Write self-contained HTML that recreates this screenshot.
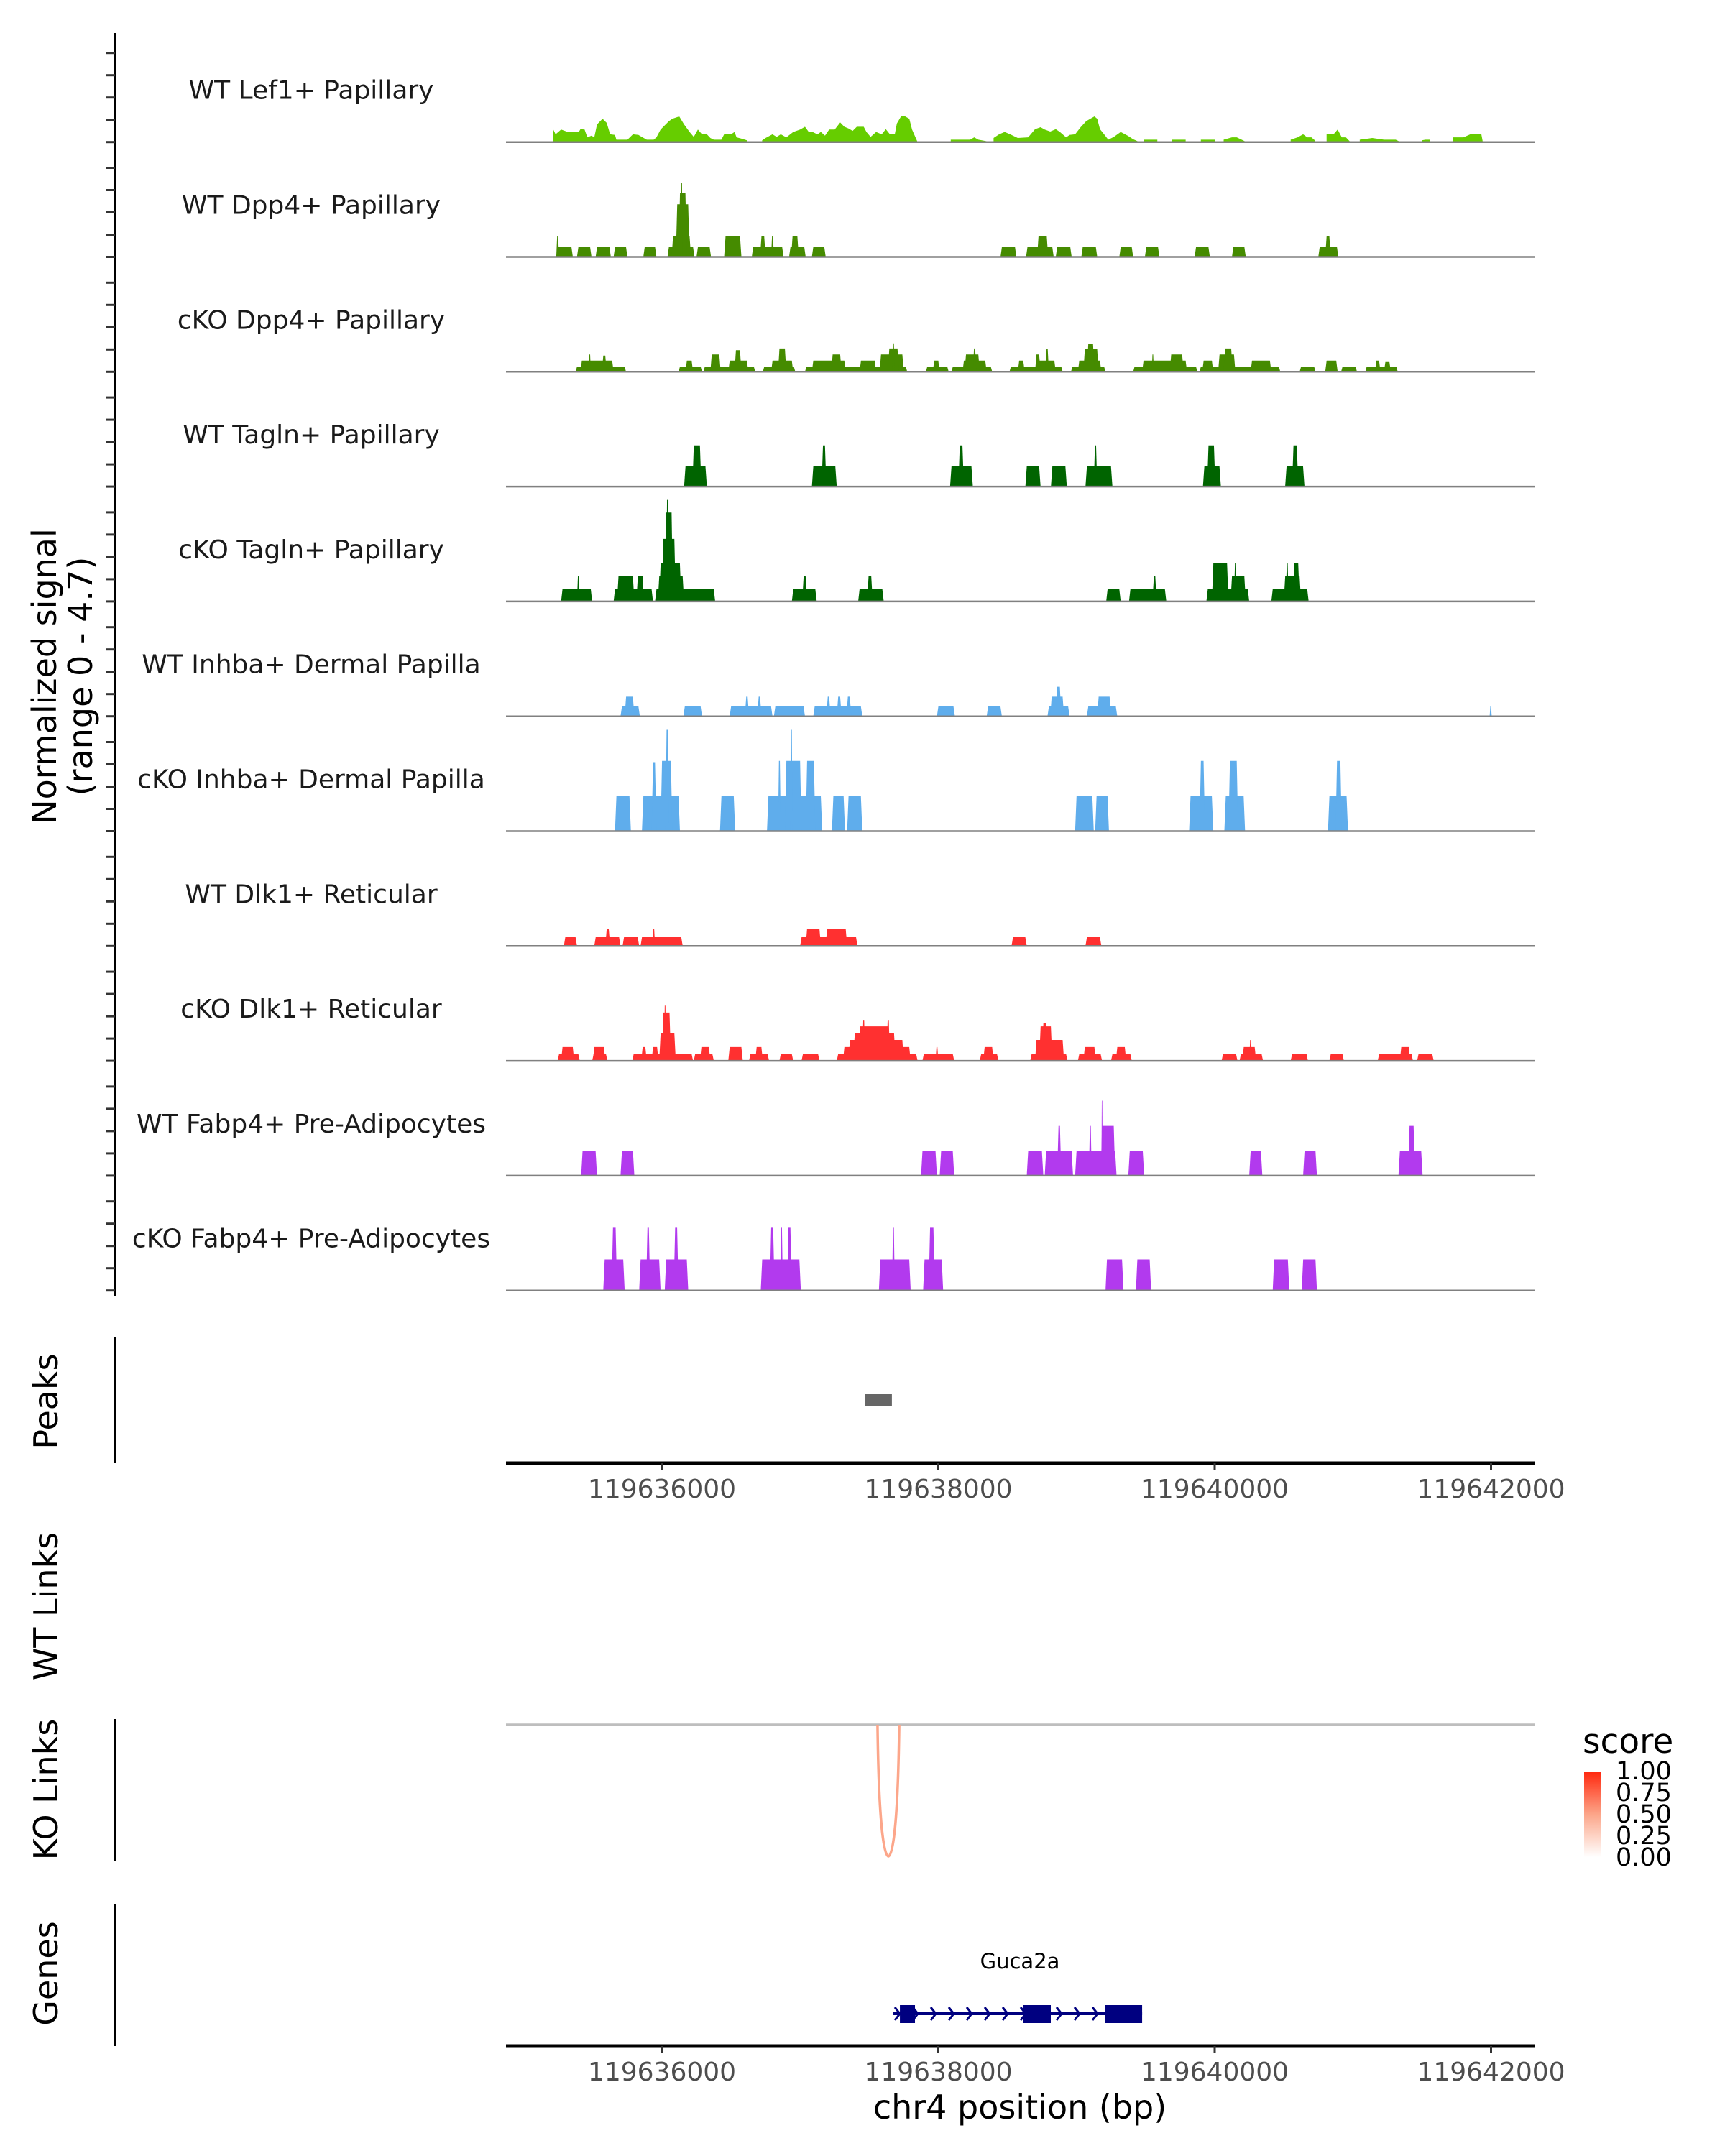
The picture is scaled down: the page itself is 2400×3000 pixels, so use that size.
<!DOCTYPE html>
<html><head><meta charset="utf-8">
<style>
html,body{margin:0;padding:0;background:#fff;}
svg{display:block;font-family:"DejaVu Sans","Liberation Sans",sans-serif;}
</style></head>
<body>
<svg id="chart" width="2400" height="3000" viewBox="0 0 2400 3000" xmlns="http://www.w3.org/2000/svg">
<rect x="0" y="0" width="2400" height="3000" fill="#fff"/>
<g id="tracks"></g>
<g id="yaxis"></g>
<text transform="translate(78,941) rotate(-90)" text-anchor="middle" font-size="46" fill="#000">Normalized signal</text>
<text transform="translate(128,941) rotate(-90)" text-anchor="middle" font-size="46" fill="#000">(range 0 - 4.7)</text>

<line x1="160" y1="1861" x2="160" y2="2036" stroke="#000" stroke-width="3"/>
<text transform="translate(80,1950) rotate(-90)" text-anchor="middle" font-size="46">Peaks</text>
<text transform="translate(80,2235) rotate(-90)" text-anchor="middle" font-size="46">WT Links</text>
<line x1="160" y1="2392" x2="160" y2="2590" stroke="#000" stroke-width="3"/>
<text transform="translate(80,2490) rotate(-90)" text-anchor="middle" font-size="46">KO Links</text>
<line x1="160" y1="2649" x2="160" y2="2847" stroke="#000" stroke-width="3"/>
<text transform="translate(80,2746) rotate(-90)" text-anchor="middle" font-size="46">Genes</text>

<g id="peaks"></g>
<g id="links"></g>
<g id="genes"></g>
<g id="axes"></g>

<text x="1419" y="2948" text-anchor="middle" font-size="46">chr4 position (bp)</text>

<g>
<defs><linearGradient id="scoreGrad" x1="0" y1="1" x2="0" y2="0">
<stop offset="0" stop-color="#ffffff"/><stop offset="0.5" stop-color="#fca68a"/><stop offset="1" stop-color="#ff2a10"/></linearGradient></defs>
<text x="2202" y="2439" font-size="47">score</text>
<rect x="2204" y="2466" width="23" height="118" fill="url(#scoreGrad)"/>
<text x="2248" y="2476" font-size="35">1.00</text>
<text x="2248" y="2506" font-size="35">0.75</text>
<text x="2248" y="2536" font-size="35">0.50</text>
<text x="2248" y="2566" font-size="35">0.25</text>
<text x="2248" y="2596" font-size="35">0.00</text>
</g>
</svg>
<script>
const REGION_START = 119634850;
const trackNames = ["WT Lef1+ Papillary","WT Dpp4+ Papillary","cKO Dpp4+ Papillary","WT Tagln+ Papillary","cKO Tagln+ Papillary","WT Inhba+ Dermal Papilla","cKO Inhba+ Dermal Papilla","WT Dlk1+ Reticular","cKO Dlk1+ Reticular","WT Fabp4+ Pre-Adipocytes","cKO Fabp4+ Pre-Adipocytes"];
const trackColors = ["#66cd00","#458b00","#458b00","#006400","#006400","#5fadec","#5fadec","#ff3030","#ff3030","#b23aee","#b23aee"];
const xTicks = [119636000,119638000,119640000,119642000];
// track 1 profile: segments of [offset bp, signal]
const lef1Profile = [
 [[360,.63],[380,.36],[420,.58],[460,.49],[550,.49],[560,.6],[590,.58],[610,.22],[640,.3],[660,.22],[680,.82],[720,1.08],[750,.89],[775,.36],[810,.33],[820,.11],[900,.11],[940,.36],[980,.33],[1010,.22],[1040,.11],[1090,.11],[1110,.22],[1140,.58],[1200,.97],[1225,1.08],[1275,1.19],[1310,.82],[1350,.47],[1380,.24],[1410,.58],[1440,.36],[1475,.36],[1500,.19],[1525,.11],[1580,.11],[1600,.36],[1650,.36],[1675,.47],[1690,.22],[1725,.16],[1765,.08]],
 [[1875,.08],[1900,.19],[1950,.36],[1980,.24],[2010,.36],[2050,.22],[2100,.47],[2150,.58],[2185,.71],[2210,.49],[2240,.47],[2275,.36],[2300,.47],[2330,.3],[2360,.58],[2400,.58],[2440,.91],[2470,.71],[2500,.63],[2530,.52],[2560,.71],[2610,.71],[2630,.47],[2660,.24],[2700,.47],[2740,.36],[2770,.6],[2800,.36],[2835,.36],[2850,.86],[2880,1.19],[2910,1.19],[2940,1.08],[2960,.58],[3000,0]],
 [[3240,.11],[3380,.11],[3410,.22],[3440,.11],[3500,.04]],
 [[3550,.19],[3590,.36],[3630,.47],[3670,.36],[3725,.19],[3800,.22],[3850,.6],[3890,.69],[3920,.58],[3960,.49],[4000,.6],[4030,.47],[4075,.22],[4100,.33],[4140,.36],[4180,.69],[4220,.97],[4250,1.08],[4280,1.19],[4300,1.08],[4320,.6],[4350,.36],[4380,.11],[4420,.24],[4470,.47],[4520,.3],[4560,.13],[4600,.02]],
 [[4640,.11],[4735,.11]],[[4840,.11],[4940,.11]],[[5050,.11],[5150,.11]],
 [[5215,.11],[5275,.22],[5310,.22],[5375,.02]],
 [[5700,.11],[5750,.22],[5790,.36],[5820,.22],[5850,.22],[5875,.08]],
 [[5960,.36],[6010,.36],[6040,.58],[6070,.22],[6100,.22],[6130,.02]],
 [[6200,.11],[6290,.19],[6375,.11],[6460,.11],[6490,.02]],
 [[6650,.08],[6675,.11],[6710,.11]],
 [[6875,.22],[6950,.22],[7000,.36],[7080,.36],[7090,.02]]
];
// blocks: [start offset, end offset, signal]
const dpp4WT = [[385,505,.47],[385,405,.98],[535,640,.47],[670,780,.47],[800,900,.47],[1015,1110,.47],[1190,1385,.47],[1220,1360,.98],[1250,1350,2.44],[1270,1330,2.96],[1285,1300,3.43],[1400,1505,.47],[1600,1725,.98],[1800,2030,.47],[1860,1900,.98],[1940,1960,.98],[2070,2190,.47],[2085,2140,.98],[2235,2335,.47],[3600,3715,.47],[3785,3985,.47],[3865,3945,.98],[4000,4115,.47],[4185,4300,.47],[4460,4560,.47],[4645,4750,.47],[5005,5115,.47],[5275,5375,.47],[5900,6045,.47],[5950,5990,.98]];
const dpp4KO = [[525,890,.24],[560,800,.52],[620,635,.8],[715,750,.75],[1270,1440,.24],[1320,1375,.52],[1450,1825,.24],[1500,1575,.8],[1630,1775,.52],[1675,1725,1.0],[1880,2115,.24],[1940,2100,.52],[1990,2050,1.08],[2185,2925,.24],[2235,2480,.52],[2375,2450,.8],[2580,2700,.52],[2725,2900,.8],[2785,2865,1.08],[2815,2835,1.32],[3060,3225,.24],[3110,3160,.52],[3245,3540,.24],[3325,3500,.52],[3340,3450,.8],[3400,3425,1.08],[3665,4050,.24],[3725,3775,.52],[3850,4000,.52],[3850,3890,.8],[3925,3950,1.05],[4110,4360,.24],[4160,4330,.52],[4200,4310,1.05],[4225,4280,1.3],[4560,5025,.24],[4625,4950,.52],[4695,4710,.8],[4825,4925,.8],[5040,5625,.24],[5060,5140,.52],[5175,5300,.8],[5215,5280,1.08],[5410,5560,.52],[5765,5880,.24],[5950,6040,.52],[6065,6180,.24],[6240,6475,.24],[6310,6350,.52],[6375,6425,.45]];
const taglnWT = [[1310,1475,.94],[1370,1435,1.91],[2235,2415,.94],[2305,2340,1.91],[3235,3400,.94],[3295,3335,1.91],[3780,3890,.94],[3965,4080,.94],[4215,4410,.94],[4275,4300,1.91],[5065,5195,.94],[5095,5155,1.91],[5660,5800,.94],[5710,5755,1.91]];
const taglnKO = [[420,645,.58],[535,555,1.17],[800,1085,.58],[825,950,1.17],[965,1020,1.17],[1100,1535,.58],[1120,1310,1.17],[1130,1290,1.77],[1150,1250,2.9],[1170,1230,4.12],[1180,1200,4.71],[2090,2270,.58],[2165,2200,1.17],[2570,2755,.58],[2635,2675,1.17],[4365,4470,.58],[4530,4800,.58],[4700,4730,1.17],[5090,5400,.58],[5130,5250,1.77],[5265,5375,1.17],[5290,5310,1.77],[5560,5830,.58],[5650,5775,1.17],[5665,5685,1.77],[5715,5765,1.77]];
const inhbaWT = [[850,990,.46],[880,950,.91],[1305,1440,.46],[1640,1950,.46],[1750,1780,.91],[1840,1870,.91],[1960,2185,.46],[2245,2600,.46],[2340,2370,.91],[2415,2450,.91],[2485,2520,.91],[3140,3270,.46],[3500,3610,.46],[3940,4100,.46],[3960,4060,.91],[4000,4040,1.37],[4225,4445,.46],[4300,4400,.91],[7140,7155,.46]];
const inhbaKO = [[810,925,1.62],[1005,1280,1.62],[1075,1110,3.2],[1140,1225,3.26],[1175,1200,4.7],[1570,1680,1.62],[1910,2310,1.62],[1990,2010,3.26],[2040,2160,3.26],[2080,2095,4.7],[2190,2260,3.26],[2380,2475,1.62],[2490,2600,1.62],[4140,4275,1.62],[4285,4385,1.62],[4965,5140,1.62],[5040,5080,3.26],[5220,5370,1.62],[5250,5320,3.26],[5970,6115,1.62],[6025,6070,3.26]];
const dlk1WT = [[440,535,.41],[660,850,.41],[740,775,.81],[865,985,.41],[995,1300,.41],[1080,1100,.81],[2150,2565,.41],[2190,2300,.81],[2335,2490,.81],[3680,3790,.41],[4215,4330,.41]];
const dlk1KO = [[395,555,.32],[420,515,.64],[645,755,.32],[650,740,.64],[935,1375,.32],[1000,1040,.64],[1075,1125,.64],[1130,1250,1.28],[1150,1215,2.24],[1165,1180,2.56],[1380,1525,.32],[1425,1500,.64],[1630,1735,.64],[1780,1925,.32],[1825,1880,.64],[2000,2100,.32],[2160,2290,.32],[2415,3000,.32],[2460,2950,.64],[2500,2900,.97],[2535,2840,1.28],[2575,2800,1.6],[2600,2620,1.9],[2775,2800,1.9],[3035,3265,.32],[3130,3150,.64],[3450,3585,.32],[3475,3550,.64],[3815,4085,.32],[3850,4060,.97],[3880,3975,1.6],[3900,3940,1.75],[4160,4335,.32],[4200,4290,.64],[4400,4550,.32],[4435,4510,.64],[5200,5315,.32],[5330,5500,.32],[5350,5450,.64],[5400,5420,.97],[5700,5825,.32],[5980,6085,.32],[6330,6585,.32],[6490,6565,.64],[6615,6735,.32]];
const fabp4WT = [[565,680,1.14],[850,950,1.14],[3025,3140,1.14],[3160,3265,1.14],[3790,3910,1.14],[3920,4125,1.14],[4010,4040,2.31],[4140,4440,1.14],[4240,4260,2.31],[4325,4430,2.31],[4330,4340,3.48],[4525,4640,1.14],[5400,5495,1.14],[5790,5890,1.14],[6480,6655,1.14],[6550,6600,2.31]];
const fabp4KO = [[725,880,1.44],[785,825,2.91],[985,1140,1.44],[1035,1065,2.91],[1170,1340,1.44],[1235,1270,2.91],[1865,2155,1.44],[1930,1965,2.91],[2005,2025,2.91],[2055,2090,2.91],[2720,2950,1.44],[2815,2835,2.91],[3040,3185,1.44],[3080,3125,2.91],[4360,4490,1.44],[4580,4690,1.44],[5570,5690,1.44],[5780,5890,1.44]];
const trackBlocks = [null,dpp4WT,dpp4KO,taglnWT,taglnKO,inhbaWT,inhbaKO,dlk1WT,dlk1KO,fabp4WT,fabp4KO];
const peakRegions = [[119637467,119637664]];
const linkStarts = [119637560];
const linkEnds = [119637717];
const linkScores = [0.45];
const geneName = "Guca2a";
const geneSpan = [119637675,119639475];
const geneExons = [[119637722,119637831],[119638616,119638814],[119639209,119639475]];

const NS="http://www.w3.org/2000/svg";
const X0=704, X1=2135;
function xAbs(bp){return 921+(bp-119636000)*0.19225;}
function xOff(o){return xAbs(REGION_START+o);}
const YU=30;
function baseY(i){return 197.7+159.8*i;}
function mk(tag,attrs,parent){const e=document.createElementNS(NS,tag);for(const k in attrs)e.setAttribute(k,attrs[k]);parent.appendChild(e);return e;}

const gT=document.getElementById('tracks');
trackNames.forEach((nm,i)=>{
  const b=baseY(i);
  const g=mk('g',{},gT);
  
  
  const t=mk('text',{x:433,y:b-60,'text-anchor':'middle','font-size':36,fill:'#1a1a1a'},g);
  t.textContent=nm;
  
  
  if(i===0){
    lef1Profile.forEach(seg=>{
      let pts=[[xOff(seg[0][0]),b]];
      seg.forEach(p=>pts.push([xOff(p[0]),b-p[1]*YU]));
      pts.push([xOff(seg[seg.length-1][0]),b]);
      const p=mk('polygon',{points:pts.map(q=>q.join(',')).join(' '),fill:trackColors[i]},g);
      
      
    });
  } else {
    trackBlocks[i].forEach(bl=>{
      const xa=xOff(bl[0]),xb=xOff(bl[1]),ty=b-bl[2]*YU;
      const r=Math.min(2,(xb-xa)/3);
      const p=mk('polygon',{points:`${xa},${b} ${xa+r},${ty} ${xb-r},${ty} ${xb},${b}`,fill:trackColors[i]},g);
      
      
    });
  }
  const l=mk('line',{x1:X0,y1:b,x2:X1,y2:b,stroke:'#808080','stroke-width':2.5},g);
  
  
});

// left y axis
const gY=document.getElementById('yaxis');
mk('line',{x1:160,y1:46,x2:160,y2:1803,stroke:'#000','stroke-width':3},gY);
for(let i=0;i<trackNames.length;i++){
  for(let k=0;k<5;k++){
    const y=baseY(i)-k*31;
    const tk=mk('line',{x1:147,y1:y,x2:160,y2:y,stroke:'#333','stroke-width':3},gY);
    
    
  }
}

// peaks
const gP=document.getElementById('peaks');
peakRegions.forEach(pk=>{
  const r=mk('rect',{x:xAbs(pk[0]),y:1940,width:xAbs(pk[1])-xAbs(pk[0]),height:17,fill:'#666'},gP);
  
  
});

// links
const gL=document.getElementById('links');
const ll=mk('line',{x1:X0,y1:2400,x2:X1,y2:2400,stroke:'#bebebe','stroke-width':3.5},gL);


linkStarts.forEach((s,i)=>{
  const xa=xAbs(s),xb=xAbs(linkEnds[i]),xm=(xa+xb)/2;
  const d=`M${xa},2400 C${xa+2},2560 ${xm-4},2583 ${xm},2583 C${xm+4},2583 ${xb-2},2560 ${xb},2400`;
  const p=mk('path',{d:d,fill:'none',stroke:'#fca68a','stroke-width':3.5},gL);
  
  
});

// genes
const gG=document.getElementById('genes');
const gy=2802;
const gl=mk('line',{x1:xAbs(geneSpan[0]),y1:gy,x2:xAbs(geneSpan[1]),y2:gy,stroke:'#000080','stroke-width':4},gG);


for(let x=xAbs(geneSpan[0])+2;x<xAbs(geneSpan[1])-8;x+=25){
  const c=mk('polyline',{points:`${x},${gy-9} ${x+7},${gy} ${x},${gy+9}`,fill:'none',stroke:'#000080','stroke-width':3},gG);
  
  
}
geneExons.forEach(ex=>{
  const r=mk('rect',{x:xAbs(ex[0]),y:2790,width:xAbs(ex[1])-xAbs(ex[0]),height:25,fill:'#000080'},gG);
  
  
});
const gn=mk('text',{x:(xAbs(geneSpan[0])+xAbs(geneSpan[1]))/2+3,y:2739,'text-anchor':'middle','font-size':29},gG);
gn.textContent=geneName;



// x axes
const gA=document.getElementById('axes');
[2036,2847].forEach(ay=>{
  const al=mk('line',{x1:X0,y1:ay,x2:X1,y2:ay,stroke:'#000','stroke-width':5},gA);
  
  
  xTicks.forEach(v=>{
    const x=xAbs(v);
    const tk=mk('line',{x1:x,y1:ay,x2:x,y2:ay+10,stroke:'#333','stroke-width':3},gA);
    
    
    const tl=mk('text',{x:x,y:ay+48,'text-anchor':'middle','font-size':36,fill:'#4d4d4d'},gA);
    tl.textContent=String(v);
    
    
  });
});
</script>
</body></html>
